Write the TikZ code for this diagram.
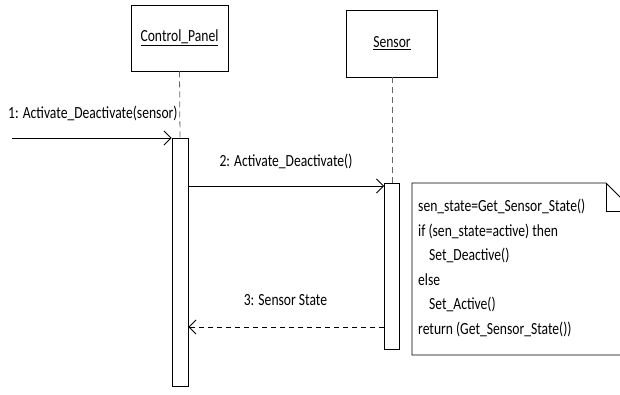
\documentclass[tikz,border=0pt]{standalone}
\usepackage{fontspec}
\setmainfont{Carlito}[FakeStretch=0.8]
\usetikzlibrary{arrows.meta}
\tikzset{
  obj/.style={draw, line width=0.9pt, fill=white, inner sep=0pt, font=\fontsize{17}{20}\selectfont},
  actbox/.style={draw, line width=0.9pt, fill=white, minimum width=16pt, inner sep=0pt},
  life/.style={draw=black!60, line width=0.8pt, dash pattern=on 6pt off 4pt},
  msg/.style={line width=0.8pt, -{Straight Barb[length=7pt,width=14pt]}},
  reply/.style={line width=0.8pt, dash pattern=on 5pt off 4pt, -{Straight Barb[length=7pt,width=14pt]}},
  lbl/.style={inner sep=0pt, font=\fontsize{17}{20}\selectfont},
  notebox/.style={line width=0.9pt, fill=white}
}
\begin{document}
\begin{tikzpicture}[x=1pt,y=-1pt]
\useasboundingbox (0,0) rectangle (620,394);
\fill[white] (0,0) rectangle (620,394);
% objects
\node[obj, minimum width=97pt, minimum height=66pt] (cp) at (179.5,38) {\underline{Control\_Panel}};
\node[obj, minimum width=91pt, minimum height=67pt] (sn) at (392,43.5) {\underline{Sensor}};
% activations
\node[actbox, minimum height=248pt, anchor=north] (a1) at (180,138) {};
\node[actbox, minimum height=166pt, minimum width=15pt, anchor=north] (a2) at (392,183) {};
% lifelines
\draw[life] (cp.south) -- (a1.north);
\draw[life] (sn.south) -- (a2.north);
% messages
\coordinate (s1) at (12,138);
\coordinate (m2) at (0,186);
\coordinate (m3) at (0,327);
\draw[msg] (s1) -- (a1.north west);
\node[lbl, anchor=west] (l1) at (8,113.5) {1: Activate\_Deactivate(sensor)};
\draw[msg] (a1.east |- m2) -- (a2.west |- m2);
\node[lbl] (l2) at (286,161) {2: Activate\_Deactivate()};
\draw[reply] (a2.west |- m3) -- (a1.east |- m3);
\node[lbl] (l3) at (285.5,300) {3: Sensor State};
% note
\draw[notebox] (606,183) -- (412,183) -- (412,355) -- (634,355) -- (634,211) -- cycle;
\draw[line width=0.9pt] (606,183) -- (606,211) -- (634,211);
\node[lbl, anchor=north west, align=left, font=\fontsize{17}{24.5}\selectfont] (nt) at (418,199)
 {sen\_state=Get\_Sensor\_State()\\
  if (sen\_state=active) then\\
  \hspace*{11pt}Set\_Deactive()\\
  else\\
  \hspace*{11pt}Set\_Active()\\
  return (Get\_Sensor\_State())};
\end{tikzpicture}
\end{document}
